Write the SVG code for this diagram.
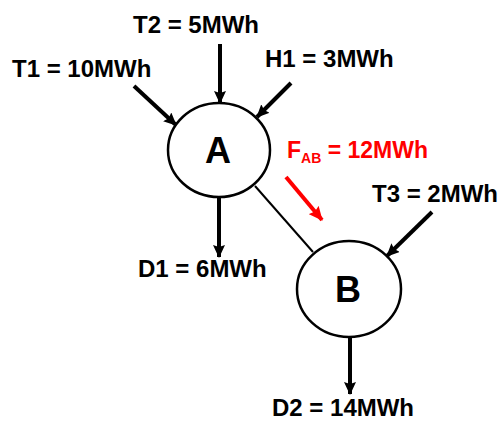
<svg xmlns="http://www.w3.org/2000/svg" width="503" height="421" viewBox="0 0 503 421">
<defs>
<marker id="ah" markerWidth="13" markerHeight="12" refX="12" refY="6" orient="auto" markerUnits="userSpaceOnUse" viewBox="0 0 13 12">
<path d="M0,0 L13,6 L0,12 L2,6 z" fill="#000"/>
</marker>
<marker id="ahr" markerWidth="14" markerHeight="13" refX="13" refY="6.5" orient="auto" markerUnits="userSpaceOnUse" viewBox="0 0 14 13">
<path d="M0,0 L14,6.5 L0,13 L2,6.5 z" fill="#f00"/>
</marker>
<style>
.lbl{font-family:"Liberation Sans",Arial,sans-serif;font-weight:bold;font-size:24px;fill:#000}
.node{fill:#fff;stroke:#000;stroke-width:2.5}
.nlbl{font-family:"Liberation Sans",Arial,sans-serif;font-weight:bold;font-size:36px;fill:#000;text-anchor:middle}
.arr{stroke:#000;stroke-width:4;fill:none;marker-end:url(#ah)}
.red{fill:#f00;font-size:23px}
.sub{font-size:14px}
</style>
</defs>
<g id="connectors">
<line class="arr" x1="220" y1="44" x2="220" y2="103"/>
<line class="arr" x1="134" y1="86" x2="176" y2="125"/>
<line class="arr" x1="291" y1="83" x2="257" y2="117"/>
<line x1="255" y1="186" x2="313" y2="252" stroke="#000" stroke-width="2"/>
<line x1="286" y1="177" x2="322" y2="220" stroke="#f00" stroke-width="4" marker-end="url(#ahr)"/>
<line class="arr" x1="432" y1="212" x2="387" y2="256"/>
<line class="arr" x1="219" y1="197" x2="219" y2="257"/>
<line class="arr" x1="350" y1="337" x2="350" y2="394"/>
</g>
<g id="nodeA">
<ellipse class="node" cx="219" cy="150" rx="51" ry="47"/>
<text class="nlbl" x="218" y="163">A</text>
</g>
<g id="nodeB">
<ellipse class="node" cx="349" cy="289" rx="52" ry="48"/>
<text class="nlbl" x="348" y="302">B</text>
</g>
<g id="labels">
<text class="lbl" x="133" y="33">T2 = 5MWh</text>
<text class="lbl" x="12" y="77">T1 = 10MWh</text>
<text class="lbl" x="265" y="67">H1 = 3MWh</text>
<text class="lbl red" x="287" y="158">F<tspan class="sub" dy="5">AB</tspan><tspan dy="-5"> = 12MWh</tspan></text>
<text class="lbl" x="372" y="202">T3 = 2MWh</text>
<text class="lbl" x="138" y="277">D1 = 6MWh</text>
<text class="lbl" x="272" y="416">D2 = 14MWh</text>
</g>
</svg>
